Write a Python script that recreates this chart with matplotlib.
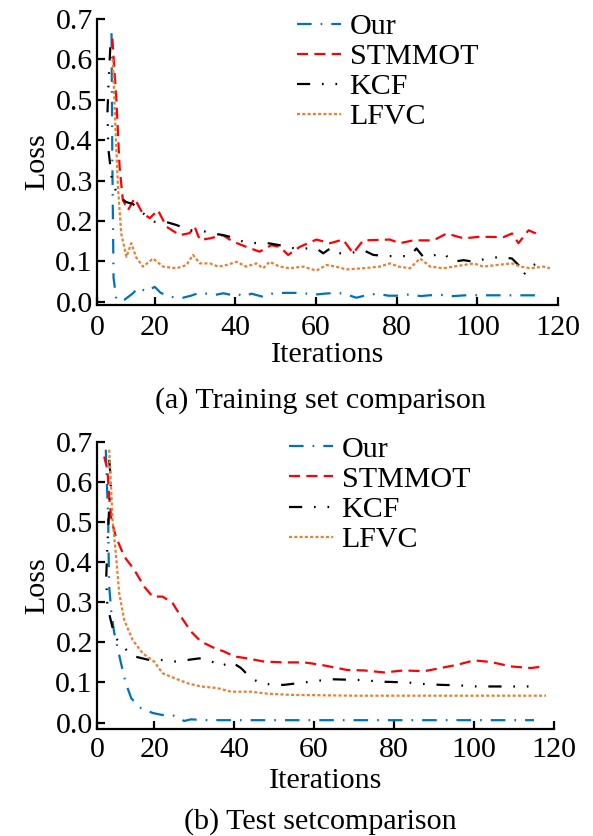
import matplotlib
matplotlib.use("Agg")
import matplotlib.pyplot as plt

plt.rcParams['font.family'] = ['Liberation Serif', 'DejaVu Serif']
plt.rcParams['lines.scale_dashes'] = False
plt.rcParams['mathtext.fontset'] = 'stix'

# ---------------- data: training set ----------------
ours_tr_x = [9.3, 9.5, 9.8, 10.5, 12.5, 14.5, 16, 18, 20, 21.5, 24, 27, 29, 31, 33, 35, 37, 39, 40.5, 42, 44, 47, 49, 52,
             55, 58, 60, 62, 65, 67, 70, 72, 75, 78, 80, 83, 86, 88, 91, 94, 97, 100, 105, 110, 115.5]
ours_tr_y = [0.665, 0.35, 0.06, 0.005, 0.005, 0.02, 0.035, 0.025, 0.037, 0.022, 0.012, 0.01, 0.015, 0.022, 0.02, 0.017,
             0.021, 0.017, 0.02, 0.013, 0.02, 0.012, 0.02, 0.022, 0.022, 0.02, 0.018, 0.02, 0.022, 0.02, 0.01, 0.015,
             0.02, 0.015, 0.015, 0.018, 0.014, 0.016, 0.017, 0.014, 0.016, 0.016, 0.016, 0.016, 0.016]

stm_tr_x = [9.5, 10.5, 11.3, 12.1, 13.4, 15, 17, 18.8, 20.8, 22.9, 26.2, 28.7, 29.9, 31.2, 33.7, 36.9, 39.4, 42.7, 46,
            48.9, 51, 53.1, 56, 60.1, 63.5, 66.7, 69.2, 71.7, 78.3, 80.8, 84.1, 89.1, 92.4, 96.6, 100.7, 106.5, 108.6,
            110.2, 112.7, 115.5]
stm_tr_y = [0.652, 0.5, 0.334, 0.252, 0.227, 0.256, 0.219, 0.207, 0.227, 0.186, 0.165, 0.17, 0.186, 0.153, 0.157, 0.165,
            0.149, 0.136, 0.124, 0.14, 0.136, 0.116, 0.136, 0.154, 0.145, 0.154, 0.12, 0.152, 0.154, 0.145, 0.152, 0.152,
            0.169, 0.157, 0.161, 0.16, 0.169, 0.145, 0.177, 0.165]

kcf_tr_x = [9.0, 8.6, 8.3, 8.5, 9.3, 10.5, 11.3, 12.9, 14.6, 17.1, 20, 22, 25.4, 28.7, 31.2, 34.5, 37, 39.4, 41.9, 44.4,
            46.9, 49.3, 51, 52.7, 56, 60.1, 61.8, 63.5, 65.1, 68.4, 71.7, 74.2, 77.5, 80, 83.3, 84.9, 86.6, 88.3, 91.6,
            94, 96.6, 99.1, 102.4, 105.7, 108.6, 110.2, 111.4, 113.2, 115.5]
kcf_tr_y = [0.63, 0.55, 0.47, 0.38, 0.31, 0.27, 0.26, 0.247, 0.242, 0.219, 0.198, 0.2, 0.19, 0.177, 0.177, 0.169, 0.165,
            0.159, 0.149, 0.145, 0.147, 0.143, 0.14, 0.134, 0.132, 0.132, 0.12, 0.132, 0.12, 0.12, 0.128, 0.116, 0.113,
            0.113, 0.113, 0.132, 0.111, 0.113, 0.12, 0.099, 0.103, 0.099, 0.107, 0.111, 0.107, 0.091, 0.066, 0.087, 0.099]

lfvc_tr_x = [9.6, 10.4, 10.9, 11.7, 13, 14.2, 15.4, 17.1, 19.6, 22.1, 25.4, 27.9, 29.5, 31.2, 33.7, 35.8, 37.8, 40.3,
             42.7, 45.2, 46.9, 48.5, 51, 53.5, 56.8, 60.1, 62.6, 65, 67.5, 71.7, 75.8, 78.3, 80.5, 83.3, 85.8, 88.3,
             91.6, 94, 96.6, 99.1, 101.5, 104.8, 108.6, 110.7, 113.2, 116.4, 118]
lfvc_tr_y = [0.6, 0.4, 0.285, 0.169, 0.111, 0.145, 0.11, 0.087, 0.107, 0.087, 0.083, 0.091, 0.116, 0.095, 0.095, 0.087,
             0.091, 0.099, 0.087, 0.095, 0.083, 0.099, 0.087, 0.083, 0.087, 0.077, 0.091, 0.087, 0.08, 0.083, 0.087,
             0.095, 0.087, 0.083, 0.107, 0.087, 0.083, 0.087, 0.091, 0.095, 0.087, 0.091, 0.095, 0.087, 0.083, 0.087,
             0.083]

# ---------------- data: test set ----------------
ours_te_x = [7.9, 8.2, 8.5, 8.6, 8.75, 9.3, 10, 11.7, 12.9, 14.3, 16.7, 19.6, 22, 25, 26.2, 27.5, 29.2, 33.3, 40, 50,
             60, 70, 80, 90, 100, 110, 115]
ours_te_y = [0.68, 0.589, 0.505, 0.423, 0.339, 0.273, 0.224, 0.148, 0.098, 0.06, 0.036, 0.024, 0.019, 0.017, 0.011,
             0.004, 0.008, 0.006, 0.006, 0.006, 0.006, 0.006, 0.006, 0.006, 0.006, 0.006, 0.006]

stm_te_x = [7.5, 8.3, 8.75, 9.3, 10.4, 12.5, 15, 17.5, 19.6, 22.1, 24.6, 26.7, 29.2, 31.7, 35, 37.5, 40, 43.3, 47.5,
            52.5, 57.5, 61.7, 65.8, 68.3, 72.5, 77.5, 82.5, 87.5, 91.7, 95.8, 100, 104.2, 109.2, 114.2, 117.5]
stm_te_y = [0.663, 0.63, 0.564, 0.505, 0.464, 0.414, 0.381, 0.339, 0.314, 0.314, 0.298, 0.264, 0.227, 0.202, 0.186,
            0.177, 0.165, 0.16, 0.152, 0.15, 0.15, 0.144, 0.136, 0.131, 0.13, 0.125, 0.13, 0.128, 0.136, 0.144, 0.155,
            0.151, 0.14, 0.136, 0.14]

kcf_te_x = [8.75, 9.2, 8.8, 8.3, 8.0, 8.3, 9.5, 10.5, 12, 15, 18.75, 21.7, 25, 28.3, 31.25, 33.75, 36.7, 39.2, 41.7,
            44.2, 46.7, 50, 52.5, 55.8, 59.2, 64.2, 71.7, 76.7, 83.3, 87.5, 91.7, 95.8, 100.8, 105.8, 110, 116.2]
kcf_te_y = [0.655, 0.6, 0.547, 0.44, 0.36, 0.29, 0.24, 0.21, 0.19, 0.165, 0.156, 0.156, 0.152, 0.156, 0.16, 0.156,
            0.14, 0.152, 0.136, 0.111, 0.098, 0.094, 0.094, 0.098, 0.102, 0.108, 0.106, 0.102, 0.1, 0.096, 0.094, 0.093,
            0.09, 0.09, 0.09, 0.09]

lfvc_te_x = [8.75, 9.2, 9.6, 10.4, 11.25, 12.5, 14.6, 17.1, 20, 22.1, 25, 28.3, 31.7, 35.8, 39.2, 44.2, 48.3, 54.2,
             62.5, 70, 80, 90, 100, 110, 118]
lfvc_te_y = [0.68, 0.589, 0.505, 0.422, 0.323, 0.256, 0.206, 0.173, 0.152, 0.123, 0.111, 0.098, 0.09, 0.086, 0.077,
             0.077, 0.072, 0.069, 0.068, 0.067, 0.067, 0.067, 0.067, 0.067, 0.067]

labels = ["Our", "STMMOT", "KCF", "LFVC"]
x_tick_vals = [20, 40, 60, 80, 100, 120]
x_tick_labels = ["0", "20", "40", "60", "80", "100", "120"]
y_ticks = [0.0, 0.1, 0.2, 0.3, 0.4, 0.5, 0.6, 0.7]
captions = ["(a) Training set comparison", "(b) Test setcomparison"]

colors = ['#0072BD', '#FF0000', '#000000', '#ED7D31']
dashes = [(0, (10.5, 6.5, 1.2, 6.5)),
          (0, (8.0, 4.5)),
          (0, (9.5, 8.5, 1.2, 8.5, 1.2, 8.5)),
          (0, (2.2, 1.6))]

W, H = 593, 836
fig = plt.figure(figsize=(W / 100, H / 100), dpi=100)
FS = 21.6
XMIN = 5.7

panels = [
    dict(rect=[97 / W, 1 - 305 / H, (558 - 97) / W, (305 - 19) / H], ylo=-0.008,
         data=[(ours_tr_x, ours_tr_y), (stm_tr_x, stm_tr_y), (kcf_tr_x, kcf_tr_y), (lfvc_tr_x, lfvc_tr_y)],
         leg=(297, 13), cap_y=401),
    dict(rect=[97 / W, 1 - 729 / H, (554 - 97) / W, (729 - 441.7) / H], ylo=-0.016,
         data=[(ours_te_x, ours_te_y), (stm_te_x, stm_te_y), (kcf_te_x, kcf_te_y), (lfvc_te_x, lfvc_te_y)],
         leg=(289, 436), cap_y=822),
]

for i, p in enumerate(panels):
    ax = fig.add_axes(p['rect'])
    for (xs, ys), c, d, lab in zip(p['data'], colors, dashes, labels):
        ax.plot(xs, ys, color=c, lw=1.6, linestyle=d, label=lab)
    ax.set_xlim(XMIN, 120)
    ax.set_ylim(p['ylo'], 0.7)
    ax.set_xticks([XMIN] + x_tick_vals)
    ax.set_xticklabels(x_tick_labels)
    ax.set_yticks(y_ticks)
    ax.set_yticklabels([f"{v:.1f}" for v in y_ticks])
    for s in ['top', 'right']:
        ax.spines[s].set_visible(False)
    for s in ['left', 'bottom']:
        ax.spines[s].set_linewidth(1.6)
    ax.tick_params(direction='in', length=6, width=1.6, labelsize=FS)
    ax.tick_params(axis='x', pad=7 if i == 0 else 6)
    ax.tick_params(axis='y', pad=3)
    ax.set_xlabel("Iterations", fontsize=FS, labelpad=1 if i == 0 else 3)
    ax.set_ylabel("Loss", fontsize=FS, labelpad=4)
    lx, ly = p['leg']
    ax.legend(loc='upper left', bbox_to_anchor=(lx / W, 1 - ly / H), bbox_transform=fig.transFigure,
              frameon=False, fontsize=FS, handlelength=1.45, handletextpad=0.3, labelspacing=0.1,
              borderpad=0, borderaxespad=0)
    fig.text(320 / W, 1 - p['cap_y'] / H, captions[i], ha='center', va='center', fontsize=FS)

fig.savefig("out.png", dpi=100)
